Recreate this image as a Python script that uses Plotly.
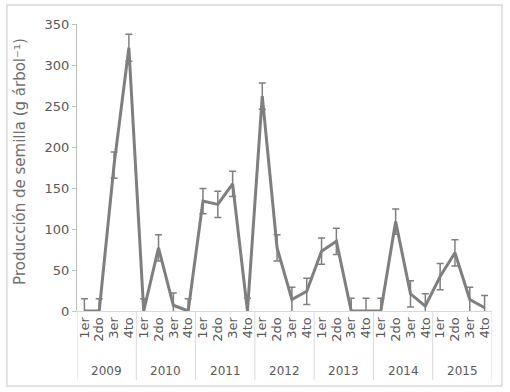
import plotly.graph_objects as go

years = ["2009", "2010", "2011", "2012", "2013", "2014", "2015"]
quarters = ["1er", "2do", "3er", "4to"]

produccion = [
    0, 0, 178, 321,      # 2009
    0, 77, 7, 0,         # 2010
    134, 130, 155, 0,    # 2011
    262, 77, 14, 24,     # 2012
    73, 85, 0, 0,        # 2013
    0, 109, 21, 6,       # 2014
    42, 71, 14, 4,       # 2015
]
error = [
    15, 15, 16, 16.5,
    15, 16, 15, 15,
    15.5, 16, 15.5, 15.5,
    16, 16, 15, 16,
    16, 16, 15.5, 15.5,
    15.5, 15.5, 16, 15,
    16, 16, 15, 15,
]

n = len(produccion)
idx = list(range(n))
qlabels = [quarters[i % 4] for i in idx]

GRAY = "#7f7f7f"
TXT = "#595959"
LIGHT = "#d9d9d9"
FONT = "DejaVu Sans"

fig = go.Figure()
fig.add_trace(go.Scatter(
    x=idx, y=produccion, mode="lines",
    line=dict(color=GRAY, width=3),
    error_y=dict(type="data", array=error, arrayminus=error, visible=True,
                 color=GRAY, thickness=1.5, width=3.5),
    hoverinfo="y", showlegend=False,
))

shapes = []
for k in range(len(years) + 1):
    xb = -0.5 + 4 * k
    shapes.append(dict(type="line", xref="x", yref="paper", x0=xb, x1=xb,
                       y0=0, y1=-0.24, line=dict(color=LIGHT, width=1)))
shapes.append(dict(type="rect", xref="paper", yref="paper",
                   x0=-0.169, x1=1.024, y0=-0.261, y1=1.066,
                   line=dict(color=LIGHT, width=1.5), fillcolor="rgba(0,0,0,0)",
                   layer="below"))

annotations = []
for k, yr in enumerate(years):
    annotations.append(dict(x=1.5 + 4 * k, y=-0.21, xref="x", yref="paper",
                            yanchor="middle", text=yr, showarrow=False,
                            font=dict(family=FONT, size=12, color=TXT)))
annotations.append(dict(x=-0.137, y=0.52, xref="paper", yref="paper",
                        xanchor="center", yanchor="middle",
                        text="Producción de semilla (g árbol⁻¹)",
                        textangle=-90, showarrow=False,
                        font=dict(family=FONT, size=15, color="#6f6f6f")))

fig.update_layout(
    width=510, height=392,
    margin=dict(l=77, r=18, t=24, b=81),
    paper_bgcolor="white", plot_bgcolor="white",
    font=dict(family=FONT, size=12, color=TXT),
    shapes=shapes, annotations=annotations,
    xaxis=dict(range=[-0.5, n - 0.5], tickmode="array", tickvals=idx,
               ticktext=qlabels, tickangle=-90, showgrid=False, zeroline=False,
               showline=True, linecolor=LIGHT, linewidth=1, ticks="",
               automargin=False,
               tickfont=dict(family=FONT, size=13, color=TXT), fixedrange=True),
    yaxis=dict(range=[0, 350], dtick=50, showgrid=False, zeroline=False,
               showline=True, linecolor="#bfbfbf", linewidth=1,
               ticks="outside", ticklen=4, tickcolor="#bfbfbf", automargin=False,
               tickfont=dict(family=FONT, size=13, color=TXT), fixedrange=True),
)

fig.write_html("out.html", config={"displayModeBar": False},
               post_script="document.body.style.margin='0';document.body.style.overflow='hidden';")
